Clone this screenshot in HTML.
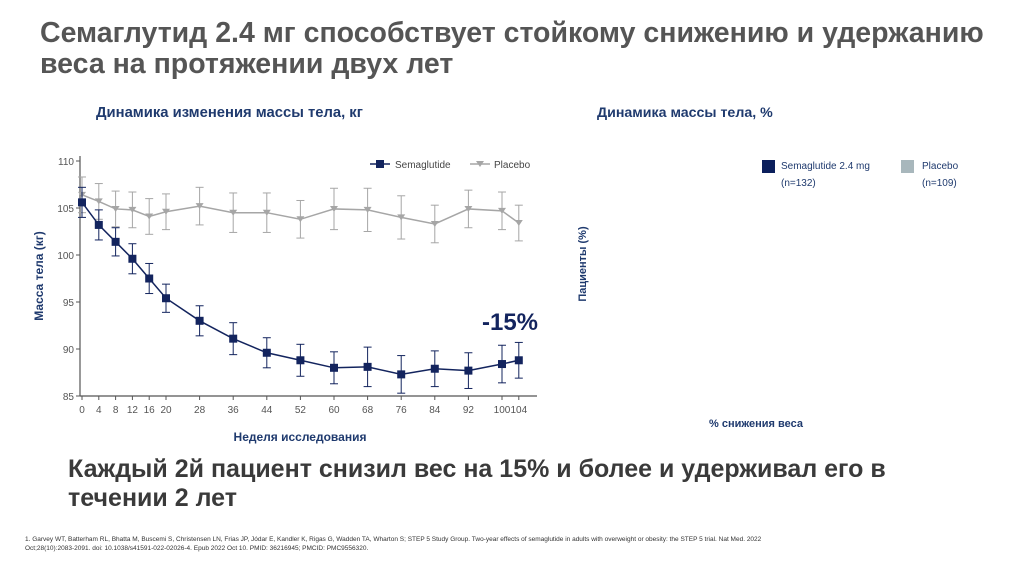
<!DOCTYPE html>
<html><head><meta charset="utf-8"><style>
body{margin:0;width:1024px;height:574px;background:#fff;font-family:"Liberation Sans",sans-serif;position:relative;overflow:hidden}
.t{position:absolute;margin:0}
</style></head><body>
<h1 class="t" style="left:40px;top:18px;font-size:28.5px;line-height:31px;color:#555;font-weight:bold;white-space:nowrap">Семаглутид 2.4 мг способствует стойкому снижению и удержанию<br>веса на протяжении двух лет</h1>
<div class="t" style="left:96px;top:105px;font-size:14.8px;font-weight:bold;color:#1f3a6e;white-space:nowrap">Динамика изменения массы тела, кг</div>
<div class="t" style="left:597px;top:105px;font-size:14.2px;font-weight:bold;color:#1f3a6e;white-space:nowrap">Динамика массы тела, %</div>
<div class="t" style="left:762px;top:158px;font-size:10px;color:#1f3a6e;line-height:17px"><span style="position:absolute;left:0;top:2px;width:13px;height:13px;background:#0b1f5c"></span><span style="margin-left:19px;display:block;white-space:nowrap">Semaglutide 2.4 mg<br>(n=132)</span></div>
<div class="t" style="left:901px;top:158px;font-size:10px;color:#1f3a6e;line-height:17px"><span style="position:absolute;left:0;top:2px;width:13px;height:13px;background:#a8b7bc"></span><span style="margin-left:21px;display:block;white-space:nowrap">Placebo<br>(n=109)</span></div>
<div class="t" style="left:543px;top:258px;font-size:11px;font-weight:bold;color:#1f3a6e;transform:rotate(-90deg);transform-origin:center;width:80px;text-align:center;white-space:nowrap">Пациенты (%)</div>
<div class="t" style="left:709px;top:418px;font-size:11px;font-weight:bold;color:#1f3a6e;white-space:nowrap">% снижения веса</div>
<div class="t" style="left:68px;top:455px;font-size:25px;line-height:29px;font-weight:bold;color:#3a3a3a;white-space:nowrap">Каждый 2й пациент снизил вес на 15% и более и удерживал его в<br>течении 2 лет</div>
<div class="t" style="left:25px;top:535px;font-size:6.5px;line-height:9px;color:#333;white-space:nowrap">1. Garvey WT, Batterham RL, Bhatta M, Buscemi S, Christensen LN, Frias JP, Jódar E, Kandler K, Rigas G, Wadden TA, Wharton S; STEP 5 Study Group. Two-year effects of semaglutide in adults with overweight or obesity: the STEP 5 trial. Nat Med. 2022<br>Oct;28(10):2083-2091. doi: 10.1038/s41591-022-02026-4. Epub 2022 Oct 10. PMID: 36216945; PMCID: PMC9556320.</div>
<svg id="chart" width="1024" height="574" style="position:absolute;left:0;top:0" font-family="Liberation Sans, sans-serif"></svg>
<script>
const weeks=[0,4,8,12,16,20,28,36,44,52,60,68,76,84,92,100,104];
const semaValues=[105.6,103.2,101.4,99.6,97.5,95.4,93.0,91.1,89.6,88.8,88.0,88.1,87.3,87.9,87.7,88.4,88.8];
const semaErr=[1.6,1.6,1.5,1.6,1.6,1.5,1.6,1.7,1.6,1.7,1.7,2.1,2.0,1.9,1.9,2.0,1.9];
const placeboValues=[106.4,105.7,104.9,104.8,104.1,104.6,105.2,104.5,104.5,103.8,104.9,104.8,104.0,103.3,104.9,104.7,103.4];
const placeboErr=[1.9,1.9,1.9,1.9,1.9,1.9,2.0,2.1,2.1,2.0,2.2,2.3,2.3,2.0,2.0,2.0,1.9];
const yTicks=[85,90,95,100,105,110];
const xTickLabels=["0","4","8","12","16","20","28","36","44","52","60","68","76","84","92","100","104"];
const NS="http://www.w3.org/2000/svg",svg=document.getElementById('chart');
const x=w=>82+w*4.2, y=v=>396-(v-85)*9.4;
function el(t,a,p){const e=document.createElementNS(NS,t);for(const k in a)e.setAttribute(k,a[k]);(p||svg).appendChild(e);return e;}
let g=el('line',{x1:80,y1:156,x2:80,y2:396,stroke:'#555','stroke-width':1.2});


g=el('line',{x1:80,y1:396,x2:537,y2:396,stroke:'#555','stroke-width':1.2});


yTicks.forEach(v=>{el('line',{x1:76,y1:y(v),x2:80,y2:y(v),stroke:'#555'});
const t=el('text',{x:74,y:y(v)+4,'text-anchor':'end','font-size':10,fill:'#555'});t.textContent=v;

});
weeks.forEach((w,i)=>{el('line',{x1:x(w),y1:396,x2:x(w),y2:400,stroke:'#555'});
const t=el('text',{x:x(w),y:413,'text-anchor':'middle','font-size':10,fill:'#555'});t.textContent=xTickLabels[i];

});
function series(vals,err,col,name,marker){
 const gg=el('g',{});
 
 
 weeks.forEach((w,i)=>{const cx=x(w),a=y(vals[i]+err[i]),b=y(vals[i]-err[i]);
  el('line',{x1:cx,y1:a,x2:cx,y2:b,stroke:col,'stroke-width':1},gg);
  el('line',{x1:cx-4,y1:a,x2:cx+4,y2:a,stroke:col},gg);
  el('line',{x1:cx-4,y1:b,x2:cx+4,y2:b,stroke:col},gg);});
 el('polyline',{points:weeks.map((w,i)=>x(w)+','+y(vals[i])).join(' '),fill:'none',stroke:col,'stroke-width':1.5},gg);
 weeks.forEach((w,i)=>{const cx=x(w),cy=y(vals[i]);let m;
  if(marker==='sq')m=el('rect',{x:cx-4,y:cy-4,width:8,height:8,fill:col},gg);
  else m=el('polygon',{points:`${cx-4},${cy-3} ${cx+4},${cy-3} ${cx},${cy+3}`,fill:col},gg);
  
  });
}
series(placeboValues,placeboErr,'#a6a6a6','placebo','tri');
series(semaValues,semaErr,'#13245e','semaglutide','sq');
el('line',{x1:370,y1:164,x2:390,y2:164,stroke:'#13245e','stroke-width':1.5});
el('rect',{x:376,y:160,width:8,height:8,fill:'#13245e'});
let t=el('text',{x:395,y:168,'font-size':10,fill:'#444'});t.textContent='Semaglutide';


el('line',{x1:470,y1:164,x2:490,y2:164,stroke:'#a6a6a6','stroke-width':1.5});
el('polygon',{points:'476,161 484,161 480,167',fill:'#a6a6a6'});
t=el('text',{x:494,y:168,'font-size':10,fill:'#444'});t.textContent='Placebo';


t=el('text',{x:510,y:330,'text-anchor':'middle','font-size':24,'font-weight':'bold',fill:'#13245e'});t.textContent='-15%';


t=el('text',{x:0,y:0,'text-anchor':'middle','font-size':12,'font-weight':'bold',fill:'#1f3a6e',transform:'translate(43,276) rotate(-90)'});t.textContent='Масса тела (кг)';


t=el('text',{x:300,y:441,'text-anchor':'middle','font-size':12,'font-weight':'bold',fill:'#1f3a6e'});t.textContent='Неделя исследования';


</script>
</body></html>
